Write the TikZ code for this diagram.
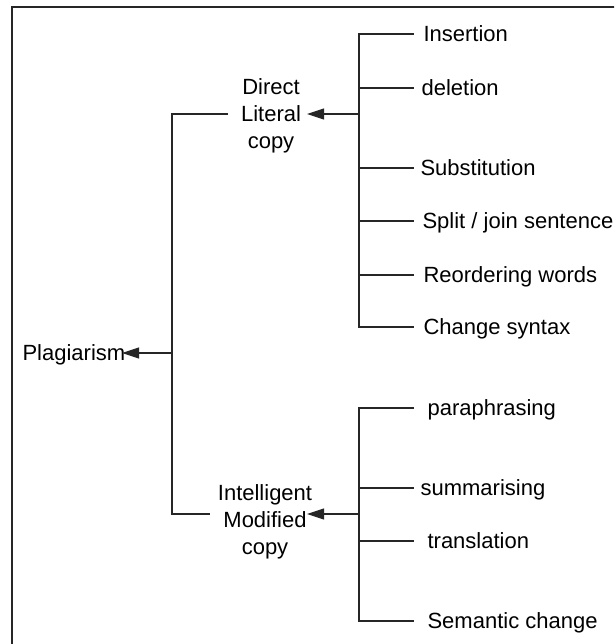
\documentclass[tikz,border=0pt]{standalone}
\usepackage{fontspec}
\setmainfont{Liberation Sans}
\usetikzlibrary{arrows.meta}
\begin{document}
\begin{tikzpicture}[x=1pt,y=-1pt,
  line width=1.1pt, draw=black!85,
  every node/.style={font=\fontsize{22}{27}\selectfont, inner sep=0pt, text=black},
  leaf/.style={anchor=west, text height=15.5pt, text depth=0pt},
  branch/.style={align=center},
  feed/.style={-{Triangle[length=17pt,width=11pt]}}]
\path[use as bounding box] (0,0) rectangle (614,644);
\path[clip] (0,0) rectangle (614,644);
% outer frame (runs past the page on the right and bottom)
\draw[line width=1.6pt] (12,7) rectangle (650,680);

% root
\node[leaf] (plag) at (22,353) {Plagiarism};
\coordinate (plagtip) at (122,353);
\coordinate (trunk) at (172,353);

% main branches
\node[branch] (dlc) at (271,116) {Direct\\Literal\\copy};
\node[branch] (imc) at (265,522) {Intelligent\\Modified\\copy};
\coordinate (dlcin) at (228,114);
\coordinate (imcin) at (210,514);
\coordinate (dlctip) at (307,114);
\coordinate (imctip) at (307,514);
\coordinate (dlcjoin) at (359,114);
\coordinate (imcjoin) at (359,514);

% spine and tick positions
\coordinate (s) at (359,0);
\coordinate (t) at (414,0);

% leaves of the literal branch
\node[leaf] (ins) at (423,34)  {Insertion};
\node[leaf] (del) at (421,88)  {deletion};
\node[leaf] (sub) at (420,168) {Substitution};
\node[leaf] (spl) at (422,221) {Split / join sentence};
\node[leaf] (reo) at (423,275) {Reordering words};
\node[leaf] (chg) at (423,327) {Change syntax};

% leaves of the modified branch
\node[leaf] (par) at (427,408) {paraphrasing};
\node[leaf] (sum) at (420,488) {summarising};
\node[leaf] (tra) at (427,541) {translation};
\node[leaf] (sem) at (427,621) {Semantic change};

% root connections
\draw[feed] (trunk) -- (plagtip);
\draw (dlcin) -| (trunk) |- (imcin);

% branch arrows
\draw[feed] (dlcjoin) -- (dlctip);
\draw[feed] (imcjoin) -- (imctip);

% literal branch spine
\draw (ins.west -| t) -| (chg.west -| s) -- (chg.west -| t);
\foreach \n in {del,sub,spl,reo}
  \draw (\n.west -| s) -- (\n.west -| t);

% modified branch spine
\draw (par.west -| t) -| (sem.west -| s) -- (sem.west -| t);
\foreach \n in {sum,tra}
  \draw (\n.west -| s) -- (\n.west -| t);
\end{tikzpicture}
\end{document}
